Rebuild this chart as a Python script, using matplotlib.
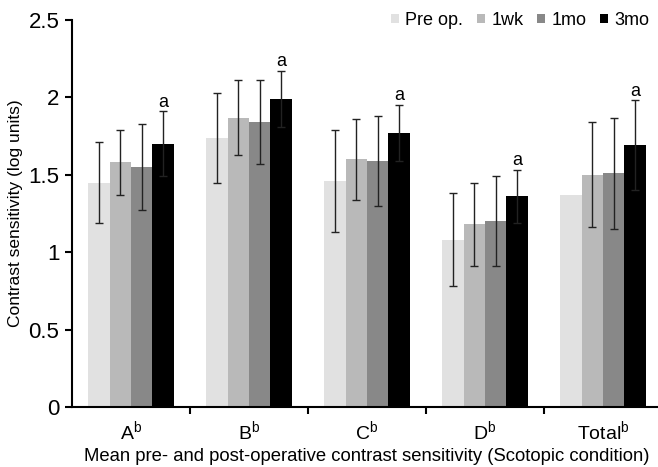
import numpy as np
import matplotlib
matplotlib.use('Agg')
import matplotlib.pyplot as plt

plt.rcParams['font.family'] = ['Liberation Sans', 'DejaVu Sans']
plt.rcParams['mathtext.default'] = 'regular'

# data
groups = ['A', 'B', 'C', 'D', 'Total']
series = ['Pre op.', '1wk', '1mo', '3mo']
colors = ['#e1e1e1', '#b9b9b9', '#888888', '#000000']

pre_op = [1.45, 1.74, 1.46, 1.08, 1.37]
wk1 = [1.58, 1.87, 1.60, 1.18, 1.50]
mo1 = [1.55, 1.84, 1.59, 1.20, 1.51]
mo3 = [1.70, 1.99, 1.77, 1.36, 1.69]

pre_err = [0.26, 0.29, 0.33, 0.30, np.nan]
wk1_err = [0.21, 0.24, 0.26, 0.27, 0.34]
mo1_err = [0.28, 0.27, 0.29, 0.29, 0.36]
mo3_err = [0.21, 0.18, 0.18, 0.17, 0.29]

values = [pre_op, wk1, mo1, mo3]
errors = [pre_err, wk1_err, mo1_err, mo3_err]

fig = plt.figure(figsize=(6.58, 4.67), dpi=100)
ax = fig.add_axes([0.1094, 0.1285, 0.8967, 0.8287])

x = np.arange(len(groups))
w = 0.182
for i, (vals, errs, c, lab) in enumerate(zip(values, errors, colors, series)):
    pos = x + (i - 1.5) * w
    ax.bar(pos, vals, width=w, color=c, label=lab, zorder=2)
    ax.errorbar(pos, vals, yerr=errs, fmt='none', ecolor='#222222',
                elinewidth=1.0, capsize=3, capthick=1.0, zorder=3)

# significance marks above the 3mo bars
for xi, v, e in zip(x, mo3, mo3_err):
    ax.text(xi + 1.5 * w, v + e + 0.005, 'a', ha='center', va='bottom', fontsize=13)

ax.set_xlim(-0.5, 4.5)
ax.set_ylim(0, 2.5)
ax.set_yticks([0, 0.5, 1, 1.5, 2, 2.5])
ax.set_yticklabels(['0', '0.5', '1', '1.5', '2', '2.5'], fontsize=16)
ax.set_xticks(x)
ax.set_xticklabels([g + '$^{b}$' for g in groups], fontsize=14)
ax.tick_params(axis='x', which='major', length=0, pad=9)
ax.set_xticks(x[:-1] + 0.5, minor=True)
ax.tick_params(axis='x', which='minor', length=5, width=1.5, direction='out')
ax.tick_params(axis='y', length=5, width=1.5, direction='out', pad=4)

for s in ['top', 'right']:
    ax.spines[s].set_visible(False)
for s in ['left', 'bottom']:
    ax.spines[s].set_linewidth(1.5)

ax.set_ylabel('Contrast sensitivity (log units)', fontsize=12.5, labelpad=4)
ax.set_xlabel('Mean pre- and post-operative contrast sensitivity (Scotopic condition)',
              fontsize=13.3, labelpad=3)

ax.legend(loc='upper right', bbox_to_anchor=(1.006, 1.063), ncol=4, frameon=False,
          fontsize=13, handlelength=0.45, handleheight=0.45, handletextpad=0.35,
          columnspacing=0.75)

fig.savefig('out.png', dpi=100)
